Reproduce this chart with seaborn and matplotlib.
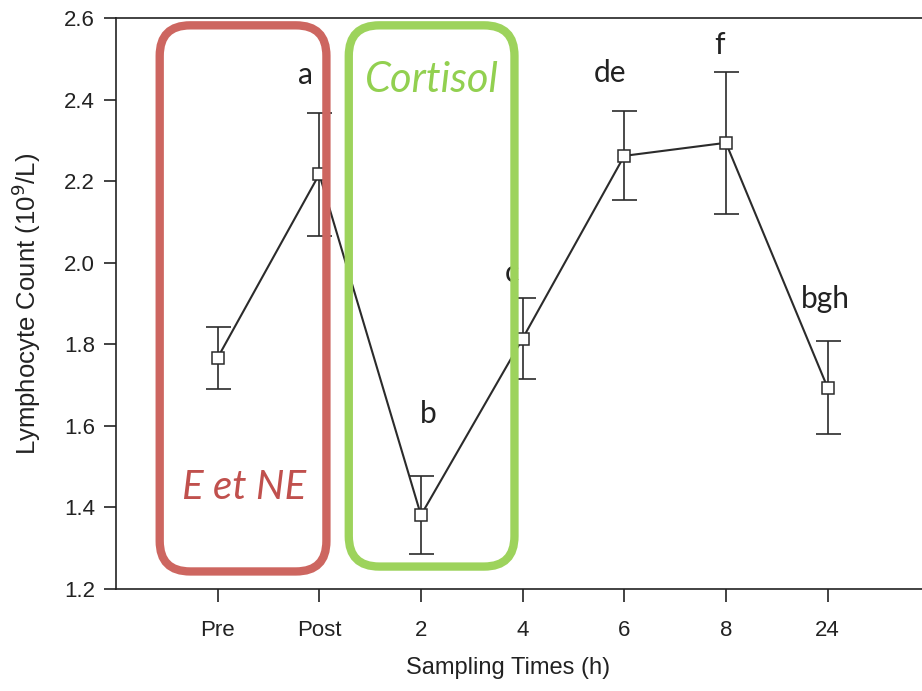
import matplotlib
matplotlib.use("Agg")
import matplotlib.pyplot as plt
from matplotlib.patches import FancyBboxPatch
import numpy as np
import seaborn as sns

# Lymphocyte count per sampling time (mean +/- SEM, 10^9/L)
times = ["Pre", "Post", "2", "4", "6", "8", "24"]
means = [1.767, 2.217, 1.381, 1.814, 2.262, 2.294, 1.694]
errors = [0.076, 0.151, 0.095, 0.099, 0.109, 0.174, 0.115]
letters = ["", "a", "b", "c", "de", "f", "bgh"]
letter_y = [None, 2.46, 1.63, 1.975, 2.465, 2.535, 1.91]
letter_dx = [0, -0.14, 0.07, -0.11, -0.14, -0.06, -0.02]

sns.set_style("ticks")
plt.rcParams["font.family"] = ["Liberation Sans", "DejaVu Sans"]

fig = plt.figure(figsize=(9.22, 6.91), dpi=100)
ax = fig.add_axes([116 / 922, 1 - 589 / 691, 1 - 116 / 922, (589 - 18) / 691])

dark = "#2b2b2b"
x = np.arange(len(times))
ax.errorbar(x, means, yerr=errors, fmt="none", ecolor=dark, elinewidth=1.2,
            capsize=9, capthick=1.2, zorder=2)
sns.lineplot(x=x, y=means, ax=ax, color=dark, lw=1.5, marker="s", markersize=9,
             markerfacecolor="white", markeredgecolor=dark, markeredgewidth=1.1,
             sort=False, zorder=3)

# significance letters (drawn under the boxes, "c" is partly hidden)
for xi, lab, ly, dx in zip(x, letters, letter_y, letter_dx):
    if lab:
        ax.text(xi + dx, ly, lab, ha="center", va="center", fontsize=21.5,
                family=["Lato", "DejaVu Sans"], color="#222222", zorder=1)

# highlight boxes
px_x = 101.6
px_y = 408.0
asp = px_x / px_y
boxes = [(-0.57, 1.243, 1.64, 1.339, "#cd6660"),
         (1.29, 1.255, 1.63, 1.327, "#9dd35c")]
for bx, by, bw, bh, col in boxes:
    p = FancyBboxPatch((bx, by), bw, bh, boxstyle="round,pad=0,rounding_size=0.3",
                       mutation_aspect=asp, fill=False, edgecolor=col, lw=6,
                       clip_on=False, zorder=4)
    ax.add_patch(p)

ax.text(0.26, 1.45, "E et NE", ha="center", va="center", fontsize=29,
        style="italic", family=["Lato", "DejaVu Sans"], color="#c0504d", zorder=5)
ax.text(2.11, 2.447, "Cortisol", ha="center", va="center", fontsize=30,
        style="italic", family=["Lato", "DejaVu Sans"], color="#92d050", zorder=5)

ax.set_xlim(-1, (922 - 218) / px_x)
ax.set_ylim(1.2, 2.6)
ax.set_yticks([1.2, 1.4, 1.6, 1.8, 2.0, 2.2, 2.4, 2.6])
ax.set_yticklabels([f"{v:.1f}" for v in [1.2, 1.4, 1.6, 1.8, 2.0, 2.2, 2.4, 2.6]])
ax.set_xticks(x)
ax.set_xticklabels(times)
ax.tick_params(axis="x", length=9, width=1.2, pad=13, labelsize=16, colors="#222222")
ax.tick_params(axis="y", length=9, width=1.2, pad=6, labelsize=16, colors="#222222")
for s in ["left", "bottom", "top"]:
    ax.spines[s].set_color("#222222")
    ax.spines[s].set_linewidth(1.2)
ax.spines["right"].set_visible(False)

ax.set_xlabel("Sampling Times (h)", fontsize=17, color="#222222")
ax.set_ylabel("Lymphocyte Count (10$^9$/L)", fontsize=18.5, color="#222222")
ax.xaxis.set_label_coords((508 - 116) / 806, -(657 - 589) / 571)
ax.yaxis.set_label_coords(-(116 - 43) / 806, 0.5)

fig.savefig("out.png", dpi=100)
